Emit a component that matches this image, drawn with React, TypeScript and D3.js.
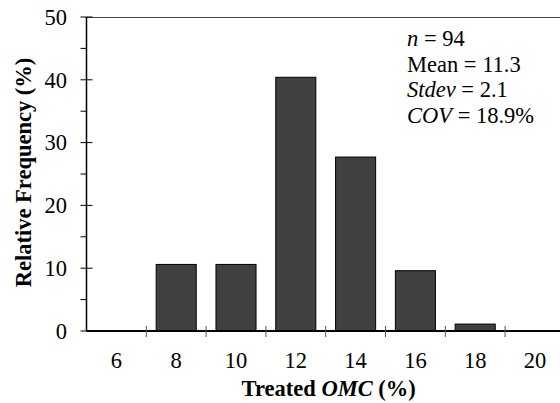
import React from "react";
import * as d3 from "d3";

// Histogram of treated optimum moisture content (OMC)
const categories = ["6", "8", "10", "12", "14", "16", "18", "20"];
const frequencies = [0, 10.6, 10.6, 40.4, 27.7, 9.6, 1.1, 0];
const yTicks = [0, 10, 20, 30, 40, 50];
const yMinorTicks = [5, 15, 25, 35, 45];
const statLines = [
  { label: "n", italic: true, value: " = 94" },
  { label: "Mean", italic: false, value: " = 11.3" },
  { label: "Stdev", italic: true, value: " = 2.1" },
  { label: "COV", italic: true, value: " = 18.9%" },
];

const W = 560;
const H = 403;
const left = 86.5;
const top = 17;
const bottom = 331;
const step = 59.8;
const fs = 22.5;
const font = "Liberation Serif, Times New Roman, serif";

export default function App() {
  const x = d3
    .scaleBand<string>()
    .domain(categories)
    .range([left, left + step * categories.length])
    .padding(0);
  const y = d3.scaleLinear().domain([0, 50]).range([bottom, top]);
  const barW = x.step() * 0.67;

  const boundaries = categories.slice(1).map((c) => x(c) as number);

  return (
    <svg
      width={W}
      height={H}
      style={{ position: "absolute", left: 0, top: 0, background: "#fff", fontFamily: font }}
    >
      {/* bars */}
      {categories.map((c, i) =>
        frequencies[i] > 0 ? (
          <rect
            key={c}
            x={(x(c) as number) + (x.bandwidth() - barW) / 2}
            y={y(frequencies[i])}
            width={barW}
            height={y(0) - y(frequencies[i])}
            fill="#404040"
            stroke="#000"
            strokeWidth={1}
          />
        ) : null
      )}

      {/* top frame line */}
      <line x1={left} x2={W} y1={top + 0.5} y2={top + 0.5} stroke="#444" strokeWidth={1} />

      {/* y axis */}
      <line x1={left} x2={left} y1={top} y2={bottom} stroke="#000" strokeWidth={1.5} />
      {yTicks.map((t) => (
        <g key={t}>
          <line x1={left - 6} x2={left + 6} y1={y(t)} y2={y(t)} stroke="#000" strokeWidth={1} />
          <text
            x={left - 19.5}
            y={y(t)}
            dy="0.35em"
            textAnchor="end"
            fontSize={fs}
            fill="#000"
            style={{ fontFamily: font }}
          >
            {t}
          </text>
        </g>
      ))}
      {yMinorTicks.map((t) => (
        <line key={t} x1={left - 6} x2={left} y1={y(t)} y2={y(t)} stroke="#000" strokeWidth={1} />
      ))}

      {/* x axis */}
      <line x1={left} x2={W} y1={bottom} y2={bottom} stroke="#000" strokeWidth={1.8} />
      {boundaries.map((bx, i) => (
        <line key={i} x1={bx} x2={bx} y1={bottom - 5} y2={bottom + 6} stroke="#555" strokeWidth={1} />
      ))}
      {categories.map((c) => (
        <text
          key={c}
          x={(x(c) as number) + x.bandwidth() / 2}
          y={368}
          textAnchor="middle"
          fontSize={fs}
          fill="#000"
          style={{ fontFamily: font }}
        >
          {c}
        </text>
      ))}

      {/* axis titles */}
      <text
        x={328.7}
        y={396}
        textAnchor="middle"
        fontSize={fs}
        fontWeight="bold"
        fill="#000"
        style={{ fontFamily: font }}
      >
        Treated <tspan fontStyle="italic">OMC</tspan> (%)
      </text>
      <text
        transform={`translate(31, 172.5) rotate(-90)`}
        textAnchor="middle"
        fontSize={fs}
        fontWeight="bold"
        fill="#000"
        style={{ fontFamily: font }}
      >
        Relative Frequency (%)
      </text>

      {/* summary statistics */}
      {statLines.map((s, i) => (
        <text
          key={s.label}
          x={407}
          y={46 + i * 25.7}
          fontSize={fs}
          fill="#000"
          style={{ fontFamily: font }}
        >
          <tspan fontStyle={s.italic ? "italic" : "normal"}>{s.label}</tspan>
          {s.value}
        </text>
      ))}
    </svg>
  );
}
